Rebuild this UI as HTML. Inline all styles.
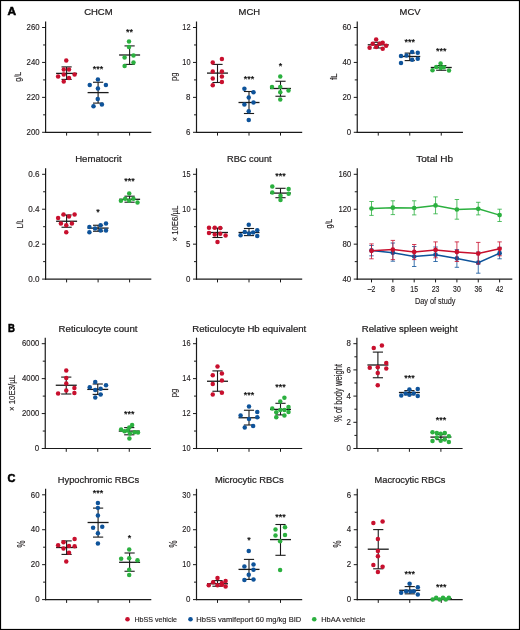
<!DOCTYPE html><html><head><meta charset="utf-8"><style>html,body{margin:0;padding:0;background:#fff}svg{display:block;will-change:transform}</style></head><body>
<svg width="520" height="630" viewBox="0 0 520 630" font-family='"Liberation Sans", sans-serif'>
<rect x="0" y="0" width="520" height="630" fill="#fff"/>
<rect x="0.5" y="0.5" width="519" height="629" fill="none" stroke="#000" stroke-width="1.2"/>
<text x="7.4" y="15.2" font-size="11.5" text-anchor="start" font-weight="bold" fill="#000" textLength="8.6" lengthAdjust="spacingAndGlyphs" stroke="#000" stroke-width="0.55">A</text>
<text x="7.9" y="331.6" font-size="11.5" text-anchor="start" font-weight="bold" fill="#000" textLength="6.9" lengthAdjust="spacingAndGlyphs" stroke="#000" stroke-width="0.55">B</text>
<text x="7.5" y="482.0" font-size="11.5" text-anchor="start" font-weight="bold" fill="#000" textLength="7.9" lengthAdjust="spacingAndGlyphs" stroke="#000" stroke-width="0.55">C</text>
<line x1="45.6" y1="21.500000000000014" x2="45.6" y2="132.9" stroke="#1a1a1a" stroke-width="1.2"/>
<line x1="45.0" y1="132.3" x2="151.3" y2="132.3" stroke="#1a1a1a" stroke-width="1.2"/>
<line x1="42.1" y1="132.3" x2="45.6" y2="132.3" stroke="#1a1a1a" stroke-width="1.0"/>
<line x1="43.1" y1="114.83333333333334" x2="45.6" y2="114.83333333333334" stroke="#1a1a1a" stroke-width="1.0"/>
<line x1="42.1" y1="97.36666666666667" x2="45.6" y2="97.36666666666667" stroke="#1a1a1a" stroke-width="1.0"/>
<line x1="43.1" y1="79.9" x2="45.6" y2="79.9" stroke="#1a1a1a" stroke-width="1.0"/>
<line x1="42.1" y1="62.43333333333335" x2="45.6" y2="62.43333333333335" stroke="#1a1a1a" stroke-width="1.0"/>
<line x1="43.1" y1="44.96666666666668" x2="45.6" y2="44.96666666666668" stroke="#1a1a1a" stroke-width="1.0"/>
<line x1="42.1" y1="27.500000000000014" x2="45.6" y2="27.500000000000014" stroke="#1a1a1a" stroke-width="1.0"/>
<line x1="66.6" y1="132.3" x2="66.6" y2="135.60000000000002" stroke="#1a1a1a" stroke-width="1.0"/>
<line x1="98.1" y1="132.3" x2="98.1" y2="135.60000000000002" stroke="#1a1a1a" stroke-width="1.0"/>
<line x1="129.6" y1="132.3" x2="129.6" y2="135.60000000000002" stroke="#1a1a1a" stroke-width="1.0"/>
<text x="39.6" y="135.05" font-size="8.6" text-anchor="end" font-weight="normal" fill="#231f20" textLength="13" lengthAdjust="spacingAndGlyphs" stroke="#231f20" stroke-width="0.15">200</text>
<text x="39.6" y="100.11666666666667" font-size="8.6" text-anchor="end" font-weight="normal" fill="#231f20" textLength="13" lengthAdjust="spacingAndGlyphs" stroke="#231f20" stroke-width="0.15">220</text>
<text x="39.6" y="65.18333333333335" font-size="8.6" text-anchor="end" font-weight="normal" fill="#231f20" textLength="13" lengthAdjust="spacingAndGlyphs" stroke="#231f20" stroke-width="0.15">240</text>
<text x="39.6" y="30.250000000000014" font-size="8.6" text-anchor="end" font-weight="normal" fill="#231f20" textLength="13" lengthAdjust="spacingAndGlyphs" stroke="#231f20" stroke-width="0.15">260</text>
<line x1="66.6" y1="66.9" x2="66.6" y2="79.4" stroke="#1a1a1a" stroke-width="1.1"/>
<line x1="61.49999999999999" y1="66.9" x2="71.69999999999999" y2="66.9" stroke="#1a1a1a" stroke-width="1.1"/>
<line x1="61.49999999999999" y1="79.4" x2="71.69999999999999" y2="79.4" stroke="#1a1a1a" stroke-width="1.1"/>
<line x1="56.099999999999994" y1="73.4" x2="77.1" y2="73.4" stroke="#1a1a1a" stroke-width="1.3"/>
<circle cx="66.25" cy="60.6" r="2.25" fill="#c8102e"/>
<circle cx="63.75" cy="69.4" r="2.25" fill="#c8102e"/>
<circle cx="69" cy="69.6" r="2.25" fill="#c8102e"/>
<circle cx="58.1" cy="76.5" r="2.25" fill="#c8102e"/>
<circle cx="63.75" cy="74.6" r="2.25" fill="#c8102e"/>
<circle cx="74.6" cy="74.6" r="2.25" fill="#c8102e"/>
<circle cx="69" cy="78.1" r="2.25" fill="#c8102e"/>
<circle cx="63.75" cy="81.5" r="2.25" fill="#c8102e"/>
<line x1="98.1" y1="82.25" x2="98.1" y2="103.1" stroke="#1a1a1a" stroke-width="1.1"/>
<line x1="93.0" y1="82.25" x2="103.19999999999999" y2="82.25" stroke="#1a1a1a" stroke-width="1.1"/>
<line x1="93.0" y1="103.1" x2="103.19999999999999" y2="103.1" stroke="#1a1a1a" stroke-width="1.1"/>
<line x1="87.6" y1="92.6" x2="108.6" y2="92.6" stroke="#1a1a1a" stroke-width="1.3"/>
<circle cx="97.9" cy="79.6" r="2.25" fill="#0e539a"/>
<circle cx="89.75" cy="85" r="2.25" fill="#0e539a"/>
<circle cx="105.9" cy="85" r="2.25" fill="#0e539a"/>
<circle cx="97.9" cy="88.6" r="2.25" fill="#0e539a"/>
<circle cx="97.75" cy="99" r="2.25" fill="#0e539a"/>
<circle cx="101.9" cy="104.4" r="2.25" fill="#0e539a"/>
<circle cx="93.5" cy="106.25" r="2.25" fill="#0e539a"/>
<line x1="129.6" y1="45.9" x2="129.6" y2="64.4" stroke="#1a1a1a" stroke-width="1.1"/>
<line x1="124.5" y1="45.9" x2="134.7" y2="45.9" stroke="#1a1a1a" stroke-width="1.1"/>
<line x1="124.5" y1="64.4" x2="134.7" y2="64.4" stroke="#1a1a1a" stroke-width="1.1"/>
<line x1="119.1" y1="55" x2="140.1" y2="55" stroke="#1a1a1a" stroke-width="1.3"/>
<circle cx="129" cy="41.5" r="2.25" fill="#2bb03f"/>
<circle cx="129" cy="46.9" r="2.25" fill="#2bb03f"/>
<circle cx="133.5" cy="55.6" r="2.25" fill="#2bb03f"/>
<circle cx="124.6" cy="57.5" r="2.25" fill="#2bb03f"/>
<circle cx="133.5" cy="62.5" r="2.25" fill="#2bb03f"/>
<circle cx="124.6" cy="66" r="2.25" fill="#2bb03f"/>
<text x="98.1" y="72.3" font-size="9" text-anchor="middle" fill="#000" stroke="#000" stroke-width="0.2">***</text>
<text x="129.6" y="34.800000000000004" font-size="9" text-anchor="middle" fill="#000" stroke="#000" stroke-width="0.2">**</text>
<text x="98.4" y="14.7" font-size="9.6" text-anchor="middle" font-weight="normal" fill="#231f20" textLength="28.5" lengthAdjust="spacingAndGlyphs" stroke="#1a1a1a" stroke-width="0.22">CHCM</text>
<text x="0" y="0" transform="translate(20.9,76.80000000000001) rotate(-90)" font-size="9.8" text-anchor="middle" font-weight="normal" fill="#231f20" textLength="10.0" lengthAdjust="spacingAndGlyphs" stroke="#231f20" stroke-width="0.15">g/L</text>
<line x1="196.5" y1="21.500000000000014" x2="196.5" y2="132.9" stroke="#1a1a1a" stroke-width="1.2"/>
<line x1="195.9" y1="132.3" x2="302.2" y2="132.3" stroke="#1a1a1a" stroke-width="1.2"/>
<line x1="193.0" y1="132.3" x2="196.5" y2="132.3" stroke="#1a1a1a" stroke-width="1.0"/>
<line x1="194.0" y1="114.83333333333334" x2="196.5" y2="114.83333333333334" stroke="#1a1a1a" stroke-width="1.0"/>
<line x1="193.0" y1="97.36666666666667" x2="196.5" y2="97.36666666666667" stroke="#1a1a1a" stroke-width="1.0"/>
<line x1="194.0" y1="79.9" x2="196.5" y2="79.9" stroke="#1a1a1a" stroke-width="1.0"/>
<line x1="193.0" y1="62.43333333333335" x2="196.5" y2="62.43333333333335" stroke="#1a1a1a" stroke-width="1.0"/>
<line x1="194.0" y1="44.96666666666668" x2="196.5" y2="44.96666666666668" stroke="#1a1a1a" stroke-width="1.0"/>
<line x1="193.0" y1="27.500000000000014" x2="196.5" y2="27.500000000000014" stroke="#1a1a1a" stroke-width="1.0"/>
<line x1="217.5" y1="132.3" x2="217.5" y2="135.60000000000002" stroke="#1a1a1a" stroke-width="1.0"/>
<line x1="249.0" y1="132.3" x2="249.0" y2="135.60000000000002" stroke="#1a1a1a" stroke-width="1.0"/>
<line x1="280.5" y1="132.3" x2="280.5" y2="135.60000000000002" stroke="#1a1a1a" stroke-width="1.0"/>
<text x="190.5" y="135.05" font-size="8.6" text-anchor="end" font-weight="normal" fill="#231f20" textLength="4.4" lengthAdjust="spacingAndGlyphs" stroke="#231f20" stroke-width="0.15">6</text>
<text x="190.5" y="100.11666666666667" font-size="8.6" text-anchor="end" font-weight="normal" fill="#231f20" textLength="4.4" lengthAdjust="spacingAndGlyphs" stroke="#231f20" stroke-width="0.15">8</text>
<text x="190.5" y="65.18333333333335" font-size="8.6" text-anchor="end" font-weight="normal" fill="#231f20" textLength="8.2" lengthAdjust="spacingAndGlyphs" stroke="#231f20" stroke-width="0.15">10</text>
<text x="190.5" y="30.250000000000014" font-size="8.6" text-anchor="end" font-weight="normal" fill="#231f20" textLength="8.2" lengthAdjust="spacingAndGlyphs" stroke="#231f20" stroke-width="0.15">12</text>
<line x1="217.5" y1="64.4" x2="217.5" y2="82.5" stroke="#1a1a1a" stroke-width="1.1"/>
<line x1="212.4" y1="64.4" x2="222.6" y2="64.4" stroke="#1a1a1a" stroke-width="1.1"/>
<line x1="212.4" y1="82.5" x2="222.6" y2="82.5" stroke="#1a1a1a" stroke-width="1.1"/>
<line x1="207.0" y1="73.1" x2="228.0" y2="73.1" stroke="#1a1a1a" stroke-width="1.3"/>
<circle cx="221.9" cy="59" r="2.25" fill="#c8102e"/>
<circle cx="212.75" cy="62.5" r="2.25" fill="#c8102e"/>
<circle cx="212.75" cy="71.5" r="2.25" fill="#c8102e"/>
<circle cx="221.9" cy="71.5" r="2.25" fill="#c8102e"/>
<circle cx="221.9" cy="76.5" r="2.25" fill="#c8102e"/>
<circle cx="212.75" cy="78.4" r="2.25" fill="#c8102e"/>
<circle cx="221.9" cy="81.9" r="2.25" fill="#c8102e"/>
<circle cx="212.75" cy="85.25" r="2.25" fill="#c8102e"/>
<line x1="249.0" y1="91.5" x2="249.0" y2="113.5" stroke="#1a1a1a" stroke-width="1.1"/>
<line x1="243.9" y1="91.5" x2="254.1" y2="91.5" stroke="#1a1a1a" stroke-width="1.1"/>
<line x1="243.9" y1="113.5" x2="254.1" y2="113.5" stroke="#1a1a1a" stroke-width="1.1"/>
<line x1="238.5" y1="102.5" x2="259.5" y2="102.5" stroke="#1a1a1a" stroke-width="1.3"/>
<circle cx="244.4" cy="88.75" r="2.25" fill="#0e539a"/>
<circle cx="253.5" cy="92.25" r="2.25" fill="#0e539a"/>
<circle cx="248.75" cy="97.5" r="2.25" fill="#0e539a"/>
<circle cx="253.5" cy="102.5" r="2.25" fill="#0e539a"/>
<circle cx="244.4" cy="104.4" r="2.25" fill="#0e539a"/>
<circle cx="248.75" cy="111.25" r="2.25" fill="#0e539a"/>
<circle cx="248.75" cy="120" r="2.25" fill="#0e539a"/>
<line x1="280.5" y1="81.25" x2="280.5" y2="96.25" stroke="#1a1a1a" stroke-width="1.1"/>
<line x1="275.4" y1="81.25" x2="285.6" y2="81.25" stroke="#1a1a1a" stroke-width="1.1"/>
<line x1="275.4" y1="96.25" x2="285.6" y2="96.25" stroke="#1a1a1a" stroke-width="1.1"/>
<line x1="270.0" y1="88.5" x2="291.0" y2="88.5" stroke="#1a1a1a" stroke-width="1.3"/>
<circle cx="280.25" cy="76.5" r="2.25" fill="#2bb03f"/>
<circle cx="272" cy="87.1" r="2.25" fill="#2bb03f"/>
<circle cx="280.25" cy="86.9" r="2.25" fill="#2bb03f"/>
<circle cx="288.5" cy="90.4" r="2.25" fill="#2bb03f"/>
<circle cx="280.25" cy="92.2" r="2.25" fill="#2bb03f"/>
<circle cx="280.25" cy="99.4" r="2.25" fill="#2bb03f"/>
<text x="249.0" y="82.3" font-size="9" text-anchor="middle" fill="#000" stroke="#000" stroke-width="0.2">***</text>
<text x="280.5" y="68.60000000000001" font-size="9" text-anchor="middle" fill="#000" stroke="#000" stroke-width="0.2">*</text>
<text x="249.3" y="14.7" font-size="9.6" text-anchor="middle" font-weight="normal" fill="#231f20" textLength="21.5" lengthAdjust="spacingAndGlyphs" stroke="#1a1a1a" stroke-width="0.22">MCH</text>
<text x="0" y="0" transform="translate(176.6,76.80000000000001) rotate(-90)" font-size="9.8" text-anchor="middle" font-weight="normal" fill="#231f20" textLength="8.6" lengthAdjust="spacingAndGlyphs" stroke="#231f20" stroke-width="0.15">pg</text>
<line x1="357.25" y1="21.500000000000014" x2="357.25" y2="132.9" stroke="#1a1a1a" stroke-width="1.2"/>
<line x1="356.65" y1="132.3" x2="462.95" y2="132.3" stroke="#1a1a1a" stroke-width="1.2"/>
<line x1="353.75" y1="132.3" x2="357.25" y2="132.3" stroke="#1a1a1a" stroke-width="1.0"/>
<line x1="354.75" y1="114.83333333333334" x2="357.25" y2="114.83333333333334" stroke="#1a1a1a" stroke-width="1.0"/>
<line x1="353.75" y1="97.36666666666667" x2="357.25" y2="97.36666666666667" stroke="#1a1a1a" stroke-width="1.0"/>
<line x1="354.75" y1="79.9" x2="357.25" y2="79.9" stroke="#1a1a1a" stroke-width="1.0"/>
<line x1="353.75" y1="62.43333333333335" x2="357.25" y2="62.43333333333335" stroke="#1a1a1a" stroke-width="1.0"/>
<line x1="354.75" y1="44.96666666666668" x2="357.25" y2="44.96666666666668" stroke="#1a1a1a" stroke-width="1.0"/>
<line x1="353.75" y1="27.500000000000014" x2="357.25" y2="27.500000000000014" stroke="#1a1a1a" stroke-width="1.0"/>
<line x1="378.25" y1="132.3" x2="378.25" y2="135.60000000000002" stroke="#1a1a1a" stroke-width="1.0"/>
<line x1="409.75" y1="132.3" x2="409.75" y2="135.60000000000002" stroke="#1a1a1a" stroke-width="1.0"/>
<line x1="441.25" y1="132.3" x2="441.25" y2="135.60000000000002" stroke="#1a1a1a" stroke-width="1.0"/>
<text x="351.25" y="135.05" font-size="8.6" text-anchor="end" font-weight="normal" fill="#231f20" textLength="4.4" lengthAdjust="spacingAndGlyphs" stroke="#231f20" stroke-width="0.15">0</text>
<text x="351.25" y="100.11666666666667" font-size="8.6" text-anchor="end" font-weight="normal" fill="#231f20" textLength="8.8" lengthAdjust="spacingAndGlyphs" stroke="#231f20" stroke-width="0.15">20</text>
<text x="351.25" y="65.18333333333335" font-size="8.6" text-anchor="end" font-weight="normal" fill="#231f20" textLength="8.8" lengthAdjust="spacingAndGlyphs" stroke="#231f20" stroke-width="0.15">40</text>
<text x="351.25" y="30.250000000000014" font-size="8.6" text-anchor="end" font-weight="normal" fill="#231f20" textLength="8.8" lengthAdjust="spacingAndGlyphs" stroke="#231f20" stroke-width="0.15">60</text>
<line x1="378.25" y1="42.3" x2="378.25" y2="48" stroke="#1a1a1a" stroke-width="1.1"/>
<line x1="373.15" y1="42.3" x2="383.35" y2="42.3" stroke="#1a1a1a" stroke-width="1.1"/>
<line x1="373.15" y1="48" x2="383.35" y2="48" stroke="#1a1a1a" stroke-width="1.1"/>
<line x1="367.75" y1="44.8" x2="388.75" y2="44.8" stroke="#1a1a1a" stroke-width="1.3"/>
<circle cx="376.15" cy="39.6" r="2.25" fill="#c8102e"/>
<circle cx="372.7" cy="43.8" r="2.25" fill="#c8102e"/>
<circle cx="379.6" cy="43.8" r="2.25" fill="#c8102e"/>
<circle cx="382.7" cy="42.7" r="2.25" fill="#c8102e"/>
<circle cx="386.15" cy="45.8" r="2.25" fill="#c8102e"/>
<circle cx="369.6" cy="47.7" r="2.25" fill="#c8102e"/>
<circle cx="376.15" cy="46.9" r="2.25" fill="#c8102e"/>
<circle cx="382.7" cy="48.8" r="2.25" fill="#c8102e"/>
<line x1="409.75" y1="53.1" x2="409.75" y2="60.6" stroke="#1a1a1a" stroke-width="1.1"/>
<line x1="404.65" y1="53.1" x2="414.85" y2="53.1" stroke="#1a1a1a" stroke-width="1.1"/>
<line x1="404.65" y1="60.6" x2="414.85" y2="60.6" stroke="#1a1a1a" stroke-width="1.1"/>
<line x1="399.25" y1="56.5" x2="420.25" y2="56.5" stroke="#1a1a1a" stroke-width="1.3"/>
<circle cx="401" cy="56" r="2.25" fill="#0e539a"/>
<circle cx="406.5" cy="55.6" r="2.25" fill="#0e539a"/>
<circle cx="412.1" cy="52.1" r="2.25" fill="#0e539a"/>
<circle cx="417.75" cy="52.75" r="2.25" fill="#0e539a"/>
<circle cx="412.1" cy="59.75" r="2.25" fill="#0e539a"/>
<circle cx="417.75" cy="58.75" r="2.25" fill="#0e539a"/>
<circle cx="401" cy="63.1" r="2.25" fill="#0e539a"/>
<line x1="441.25" y1="65.6" x2="441.25" y2="70.25" stroke="#1a1a1a" stroke-width="1.1"/>
<line x1="436.15" y1="65.6" x2="446.35" y2="65.6" stroke="#1a1a1a" stroke-width="1.1"/>
<line x1="436.15" y1="70.25" x2="446.35" y2="70.25" stroke="#1a1a1a" stroke-width="1.1"/>
<line x1="430.75" y1="67.5" x2="451.75" y2="67.5" stroke="#1a1a1a" stroke-width="1.3"/>
<circle cx="440.6" cy="63.5" r="2.25" fill="#2bb03f"/>
<circle cx="436.25" cy="66.9" r="2.25" fill="#2bb03f"/>
<circle cx="443.75" cy="67.25" r="2.25" fill="#2bb03f"/>
<circle cx="432.5" cy="70.25" r="2.25" fill="#2bb03f"/>
<circle cx="449" cy="70.6" r="2.25" fill="#2bb03f"/>
<circle cx="440.6" cy="68.1" r="2.25" fill="#2bb03f"/>
<text x="409.75" y="44.800000000000004" font-size="9" text-anchor="middle" fill="#000" stroke="#000" stroke-width="0.2">***</text>
<text x="441.25" y="54.2" font-size="9" text-anchor="middle" fill="#000" stroke="#000" stroke-width="0.2">***</text>
<text x="410.05" y="14.7" font-size="9.6" text-anchor="middle" font-weight="normal" fill="#231f20" textLength="20.9" lengthAdjust="spacingAndGlyphs" stroke="#1a1a1a" stroke-width="0.22">MCV</text>
<text x="0" y="0" transform="translate(337.0,76.80000000000001) rotate(-90)" font-size="9.8" text-anchor="middle" font-weight="normal" fill="#231f20" textLength="6.6" lengthAdjust="spacingAndGlyphs" stroke="#231f20" stroke-width="0.15">fL</text>
<line x1="45.6" y1="168.3" x2="45.6" y2="279.70000000000005" stroke="#1a1a1a" stroke-width="1.2"/>
<line x1="45.0" y1="279.1" x2="151.3" y2="279.1" stroke="#1a1a1a" stroke-width="1.2"/>
<line x1="42.1" y1="279.1" x2="45.6" y2="279.1" stroke="#1a1a1a" stroke-width="1.0"/>
<line x1="43.1" y1="261.6333333333334" x2="45.6" y2="261.6333333333334" stroke="#1a1a1a" stroke-width="1.0"/>
<line x1="42.1" y1="244.16666666666669" x2="45.6" y2="244.16666666666669" stroke="#1a1a1a" stroke-width="1.0"/>
<line x1="43.1" y1="226.70000000000002" x2="45.6" y2="226.70000000000002" stroke="#1a1a1a" stroke-width="1.0"/>
<line x1="42.1" y1="209.23333333333335" x2="45.6" y2="209.23333333333335" stroke="#1a1a1a" stroke-width="1.0"/>
<line x1="43.1" y1="191.7666666666667" x2="45.6" y2="191.7666666666667" stroke="#1a1a1a" stroke-width="1.0"/>
<line x1="42.1" y1="174.3" x2="45.6" y2="174.3" stroke="#1a1a1a" stroke-width="1.0"/>
<line x1="66.6" y1="279.1" x2="66.6" y2="282.40000000000003" stroke="#1a1a1a" stroke-width="1.0"/>
<line x1="98.1" y1="279.1" x2="98.1" y2="282.40000000000003" stroke="#1a1a1a" stroke-width="1.0"/>
<line x1="129.6" y1="279.1" x2="129.6" y2="282.40000000000003" stroke="#1a1a1a" stroke-width="1.0"/>
<text x="39.6" y="281.85" font-size="8.6" text-anchor="end" font-weight="normal" fill="#231f20" textLength="11.3" lengthAdjust="spacingAndGlyphs" stroke="#231f20" stroke-width="0.15">0.0</text>
<text x="39.6" y="246.91666666666669" font-size="8.6" text-anchor="end" font-weight="normal" fill="#231f20" textLength="11.3" lengthAdjust="spacingAndGlyphs" stroke="#231f20" stroke-width="0.15">0.2</text>
<text x="39.6" y="211.98333333333335" font-size="8.6" text-anchor="end" font-weight="normal" fill="#231f20" textLength="11.3" lengthAdjust="spacingAndGlyphs" stroke="#231f20" stroke-width="0.15">0.4</text>
<text x="39.6" y="177.05" font-size="8.6" text-anchor="end" font-weight="normal" fill="#231f20" textLength="11.3" lengthAdjust="spacingAndGlyphs" stroke="#231f20" stroke-width="0.15">0.6</text>
<line x1="66.6" y1="215" x2="66.6" y2="227.25" stroke="#1a1a1a" stroke-width="1.1"/>
<line x1="61.49999999999999" y1="215" x2="71.69999999999999" y2="215" stroke="#1a1a1a" stroke-width="1.1"/>
<line x1="61.49999999999999" y1="227.25" x2="71.69999999999999" y2="227.25" stroke="#1a1a1a" stroke-width="1.1"/>
<line x1="56.099999999999994" y1="221.25" x2="77.1" y2="221.25" stroke="#1a1a1a" stroke-width="1.3"/>
<circle cx="63.5" cy="214.6" r="2.25" fill="#c8102e"/>
<circle cx="69" cy="216.5" r="2.25" fill="#c8102e"/>
<circle cx="74.6" cy="214.6" r="2.25" fill="#c8102e"/>
<circle cx="58.1" cy="218.1" r="2.25" fill="#c8102e"/>
<circle cx="60.9" cy="223.5" r="2.25" fill="#c8102e"/>
<circle cx="66.25" cy="225.25" r="2.25" fill="#c8102e"/>
<circle cx="71.9" cy="223.5" r="2.25" fill="#c8102e"/>
<circle cx="66.25" cy="232.25" r="2.25" fill="#c8102e"/>
<line x1="98.1" y1="225.25" x2="98.1" y2="231.25" stroke="#1a1a1a" stroke-width="1.1"/>
<line x1="93.0" y1="225.25" x2="103.19999999999999" y2="225.25" stroke="#1a1a1a" stroke-width="1.1"/>
<line x1="93.0" y1="231.25" x2="103.19999999999999" y2="231.25" stroke="#1a1a1a" stroke-width="1.1"/>
<line x1="87.6" y1="228.1" x2="108.6" y2="228.1" stroke="#1a1a1a" stroke-width="1.3"/>
<circle cx="89.4" cy="226.9" r="2.25" fill="#0e539a"/>
<circle cx="95" cy="228.5" r="2.25" fill="#0e539a"/>
<circle cx="100.6" cy="225.25" r="2.25" fill="#0e539a"/>
<circle cx="106" cy="223.5" r="2.25" fill="#0e539a"/>
<circle cx="89.4" cy="232.25" r="2.25" fill="#0e539a"/>
<circle cx="100.6" cy="230.6" r="2.25" fill="#0e539a"/>
<circle cx="106" cy="230.6" r="2.25" fill="#0e539a"/>
<line x1="129.6" y1="196.2" x2="129.6" y2="202.2" stroke="#1a1a1a" stroke-width="1.1"/>
<line x1="124.5" y1="196.2" x2="134.7" y2="196.2" stroke="#1a1a1a" stroke-width="1.1"/>
<line x1="124.5" y1="202.2" x2="134.7" y2="202.2" stroke="#1a1a1a" stroke-width="1.1"/>
<line x1="119.1" y1="199.3" x2="140.1" y2="199.3" stroke="#1a1a1a" stroke-width="1.3"/>
<circle cx="129.2" cy="193.6" r="2.25" fill="#2bb03f"/>
<circle cx="125.2" cy="198.8" r="2.25" fill="#2bb03f"/>
<circle cx="133.4" cy="198.8" r="2.25" fill="#2bb03f"/>
<circle cx="120.9" cy="200.8" r="2.25" fill="#2bb03f"/>
<circle cx="129.2" cy="200.8" r="2.25" fill="#2bb03f"/>
<circle cx="137.5" cy="202.5" r="2.25" fill="#2bb03f"/>
<text x="98.1" y="214.79999999999998" font-size="9" text-anchor="middle" fill="#000" stroke="#000" stroke-width="0.2">*</text>
<text x="129.6" y="183.79999999999998" font-size="9" text-anchor="middle" fill="#000" stroke="#000" stroke-width="0.2">***</text>
<text x="98.4" y="162.3" font-size="9.6" text-anchor="middle" font-weight="normal" fill="#231f20" textLength="46.5" lengthAdjust="spacingAndGlyphs" stroke="#1a1a1a" stroke-width="0.22">Hematocrit</text>
<text x="0" y="0" transform="translate(22.9,223.60000000000002) rotate(-90)" font-size="9.8" text-anchor="middle" font-weight="normal" fill="#231f20" textLength="9.2" lengthAdjust="spacingAndGlyphs" stroke="#231f20" stroke-width="0.15">L/L</text>
<line x1="196.5" y1="168.3" x2="196.5" y2="279.70000000000005" stroke="#1a1a1a" stroke-width="1.2"/>
<line x1="195.9" y1="279.1" x2="302.2" y2="279.1" stroke="#1a1a1a" stroke-width="1.2"/>
<line x1="193.0" y1="279.1" x2="196.5" y2="279.1" stroke="#1a1a1a" stroke-width="1.0"/>
<line x1="194.0" y1="261.6333333333334" x2="196.5" y2="261.6333333333334" stroke="#1a1a1a" stroke-width="1.0"/>
<line x1="193.0" y1="244.16666666666669" x2="196.5" y2="244.16666666666669" stroke="#1a1a1a" stroke-width="1.0"/>
<line x1="194.0" y1="226.70000000000002" x2="196.5" y2="226.70000000000002" stroke="#1a1a1a" stroke-width="1.0"/>
<line x1="193.0" y1="209.23333333333335" x2="196.5" y2="209.23333333333335" stroke="#1a1a1a" stroke-width="1.0"/>
<line x1="194.0" y1="191.7666666666667" x2="196.5" y2="191.7666666666667" stroke="#1a1a1a" stroke-width="1.0"/>
<line x1="193.0" y1="174.3" x2="196.5" y2="174.3" stroke="#1a1a1a" stroke-width="1.0"/>
<line x1="217.5" y1="279.1" x2="217.5" y2="282.40000000000003" stroke="#1a1a1a" stroke-width="1.0"/>
<line x1="249.0" y1="279.1" x2="249.0" y2="282.40000000000003" stroke="#1a1a1a" stroke-width="1.0"/>
<line x1="280.5" y1="279.1" x2="280.5" y2="282.40000000000003" stroke="#1a1a1a" stroke-width="1.0"/>
<text x="190.5" y="281.85" font-size="8.6" text-anchor="end" font-weight="normal" fill="#231f20" textLength="4.4" lengthAdjust="spacingAndGlyphs" stroke="#231f20" stroke-width="0.15">0</text>
<text x="190.5" y="246.91666666666669" font-size="8.6" text-anchor="end" font-weight="normal" fill="#231f20" textLength="4.4" lengthAdjust="spacingAndGlyphs" stroke="#231f20" stroke-width="0.15">5</text>
<text x="190.5" y="211.98333333333335" font-size="8.6" text-anchor="end" font-weight="normal" fill="#231f20" textLength="8.2" lengthAdjust="spacingAndGlyphs" stroke="#231f20" stroke-width="0.15">10</text>
<text x="190.5" y="177.05" font-size="8.6" text-anchor="end" font-weight="normal" fill="#231f20" textLength="8.2" lengthAdjust="spacingAndGlyphs" stroke="#231f20" stroke-width="0.15">15</text>
<line x1="217.5" y1="228.1" x2="217.5" y2="237.5" stroke="#1a1a1a" stroke-width="1.1"/>
<line x1="212.4" y1="228.1" x2="222.6" y2="228.1" stroke="#1a1a1a" stroke-width="1.1"/>
<line x1="212.4" y1="237.5" x2="222.6" y2="237.5" stroke="#1a1a1a" stroke-width="1.1"/>
<line x1="207.0" y1="232.5" x2="228.0" y2="232.5" stroke="#1a1a1a" stroke-width="1.3"/>
<circle cx="209" cy="227.75" r="2.25" fill="#c8102e"/>
<circle cx="214.75" cy="227.75" r="2.25" fill="#c8102e"/>
<circle cx="220.25" cy="228.1" r="2.25" fill="#c8102e"/>
<circle cx="209" cy="233.1" r="2.25" fill="#c8102e"/>
<circle cx="214.75" cy="234.4" r="2.25" fill="#c8102e"/>
<circle cx="220.25" cy="233.75" r="2.25" fill="#c8102e"/>
<circle cx="225.6" cy="235.6" r="2.25" fill="#c8102e"/>
<circle cx="217.5" cy="241.9" r="2.25" fill="#c8102e"/>
<line x1="249.0" y1="228.5" x2="249.0" y2="235.6" stroke="#1a1a1a" stroke-width="1.1"/>
<line x1="243.9" y1="228.5" x2="254.1" y2="228.5" stroke="#1a1a1a" stroke-width="1.1"/>
<line x1="243.9" y1="235.6" x2="254.1" y2="235.6" stroke="#1a1a1a" stroke-width="1.1"/>
<line x1="238.5" y1="232.5" x2="259.5" y2="232.5" stroke="#1a1a1a" stroke-width="1.3"/>
<circle cx="248.75" cy="224.75" r="2.25" fill="#0e539a"/>
<circle cx="244.75" cy="231.9" r="2.25" fill="#0e539a"/>
<circle cx="249" cy="233.5" r="2.25" fill="#0e539a"/>
<circle cx="253.1" cy="232.5" r="2.25" fill="#0e539a"/>
<circle cx="257.25" cy="230.25" r="2.25" fill="#0e539a"/>
<circle cx="240.6" cy="235.25" r="2.25" fill="#0e539a"/>
<circle cx="257.25" cy="236" r="2.25" fill="#0e539a"/>
<line x1="280.5" y1="188.3" x2="280.5" y2="197.7" stroke="#1a1a1a" stroke-width="1.1"/>
<line x1="275.4" y1="188.3" x2="285.6" y2="188.3" stroke="#1a1a1a" stroke-width="1.1"/>
<line x1="275.4" y1="197.7" x2="285.6" y2="197.7" stroke="#1a1a1a" stroke-width="1.1"/>
<line x1="270.0" y1="193.1" x2="291.0" y2="193.1" stroke="#1a1a1a" stroke-width="1.3"/>
<circle cx="272.3" cy="186.6" r="2.25" fill="#2bb03f"/>
<circle cx="288.65" cy="189" r="2.25" fill="#2bb03f"/>
<circle cx="272.3" cy="192.4" r="2.25" fill="#2bb03f"/>
<circle cx="288.65" cy="193.85" r="2.25" fill="#2bb03f"/>
<circle cx="280.5" cy="195.8" r="2.25" fill="#2bb03f"/>
<circle cx="280.5" cy="200.1" r="2.25" fill="#2bb03f"/>
<text x="280.5" y="178.79999999999998" font-size="9" text-anchor="middle" fill="#000" stroke="#000" stroke-width="0.2">***</text>
<text x="249.3" y="162.3" font-size="9.6" text-anchor="middle" font-weight="normal" fill="#231f20" textLength="44.6" lengthAdjust="spacingAndGlyphs" stroke="#1a1a1a" stroke-width="0.22">RBC count</text>
<text x="0" y="0" transform="translate(177.6,223.60000000000002) rotate(-90)" font-size="9.8" text-anchor="middle" font-weight="normal" fill="#231f20" textLength="36.0" lengthAdjust="spacingAndGlyphs" stroke="#231f20" stroke-width="0.15">× 10E6/µL</text>
<line x1="357.25" y1="168.3" x2="357.25" y2="279.70000000000005" stroke="#1a1a1a" stroke-width="1.2"/>
<line x1="356.65" y1="279.1" x2="512.3" y2="279.1" stroke="#1a1a1a" stroke-width="1.2"/>
<line x1="353.75" y1="279.1" x2="357.25" y2="279.1" stroke="#1a1a1a" stroke-width="1.0"/>
<line x1="354.75" y1="261.6333333333334" x2="357.25" y2="261.6333333333334" stroke="#1a1a1a" stroke-width="1.0"/>
<line x1="353.75" y1="244.16666666666669" x2="357.25" y2="244.16666666666669" stroke="#1a1a1a" stroke-width="1.0"/>
<line x1="354.75" y1="226.70000000000002" x2="357.25" y2="226.70000000000002" stroke="#1a1a1a" stroke-width="1.0"/>
<line x1="353.75" y1="209.23333333333335" x2="357.25" y2="209.23333333333335" stroke="#1a1a1a" stroke-width="1.0"/>
<line x1="354.75" y1="191.7666666666667" x2="357.25" y2="191.7666666666667" stroke="#1a1a1a" stroke-width="1.0"/>
<line x1="353.75" y1="174.3" x2="357.25" y2="174.3" stroke="#1a1a1a" stroke-width="1.0"/>
<text x="351.25" y="281.85" font-size="8.6" text-anchor="end" font-weight="normal" fill="#231f20" textLength="8.8" lengthAdjust="spacingAndGlyphs" stroke="#231f20" stroke-width="0.15">40</text>
<text x="351.25" y="246.91666666666669" font-size="8.6" text-anchor="end" font-weight="normal" fill="#231f20" textLength="8.8" lengthAdjust="spacingAndGlyphs" stroke="#231f20" stroke-width="0.15">80</text>
<text x="351.25" y="211.98333333333335" font-size="8.6" text-anchor="end" font-weight="normal" fill="#231f20" textLength="12.8" lengthAdjust="spacingAndGlyphs" stroke="#231f20" stroke-width="0.15">120</text>
<text x="351.25" y="177.05" font-size="8.6" text-anchor="end" font-weight="normal" fill="#231f20" textLength="12.8" lengthAdjust="spacingAndGlyphs" stroke="#231f20" stroke-width="0.15">160</text>
<line x1="371.5" y1="279.1" x2="371.5" y2="282.40000000000003" stroke="#1a1a1a" stroke-width="1.0"/>
<line x1="392.85" y1="279.1" x2="392.85" y2="282.40000000000003" stroke="#1a1a1a" stroke-width="1.0"/>
<line x1="414.2" y1="279.1" x2="414.2" y2="282.40000000000003" stroke="#1a1a1a" stroke-width="1.0"/>
<line x1="435.55" y1="279.1" x2="435.55" y2="282.40000000000003" stroke="#1a1a1a" stroke-width="1.0"/>
<line x1="456.9" y1="279.1" x2="456.9" y2="282.40000000000003" stroke="#1a1a1a" stroke-width="1.0"/>
<line x1="478.25" y1="279.1" x2="478.25" y2="282.40000000000003" stroke="#1a1a1a" stroke-width="1.0"/>
<line x1="499.6" y1="279.1" x2="499.6" y2="282.40000000000003" stroke="#1a1a1a" stroke-width="1.0"/>
<text x="371.5" y="291.6" font-size="8.6" text-anchor="middle" font-weight="normal" fill="#231f20" textLength="7.7" lengthAdjust="spacingAndGlyphs" stroke="#231f20" stroke-width="0.15">–2</text>
<text x="392.85" y="291.6" font-size="8.6" text-anchor="middle" font-weight="normal" fill="#231f20" textLength="3.9" lengthAdjust="spacingAndGlyphs" stroke="#231f20" stroke-width="0.15">8</text>
<text x="414.2" y="291.6" font-size="8.6" text-anchor="middle" font-weight="normal" fill="#231f20" textLength="7.7" lengthAdjust="spacingAndGlyphs" stroke="#231f20" stroke-width="0.15">15</text>
<text x="435.55" y="291.6" font-size="8.6" text-anchor="middle" font-weight="normal" fill="#231f20" textLength="7.7" lengthAdjust="spacingAndGlyphs" stroke="#231f20" stroke-width="0.15">23</text>
<text x="456.9" y="291.6" font-size="8.6" text-anchor="middle" font-weight="normal" fill="#231f20" textLength="7.7" lengthAdjust="spacingAndGlyphs" stroke="#231f20" stroke-width="0.15">30</text>
<text x="478.25" y="291.6" font-size="8.6" text-anchor="middle" font-weight="normal" fill="#231f20" textLength="7.7" lengthAdjust="spacingAndGlyphs" stroke="#231f20" stroke-width="0.15">36</text>
<text x="499.6" y="291.6" font-size="8.6" text-anchor="middle" font-weight="normal" fill="#231f20" textLength="7.7" lengthAdjust="spacingAndGlyphs" stroke="#231f20" stroke-width="0.15">42</text>
<text x="435.2" y="303.8" font-size="9.6" text-anchor="middle" font-weight="normal" fill="#231f20" textLength="40.5" lengthAdjust="spacingAndGlyphs" stroke="#231f20" stroke-width="0.15">Day of study</text>
<text x="434.7" y="162.3" font-size="9.6" text-anchor="middle" font-weight="normal" fill="#231f20" textLength="36.9" lengthAdjust="spacingAndGlyphs" stroke="#1a1a1a" stroke-width="0.22">Total Hb</text>
<text x="0" y="0" transform="translate(332.4,223.7) rotate(-90)" font-size="9.8" text-anchor="middle" font-weight="normal" fill="#231f20" textLength="9.8" lengthAdjust="spacingAndGlyphs" stroke="#231f20" stroke-width="0.15">g/L</text>
<line x1="371.5" y1="201.5" x2="371.5" y2="215.4" stroke="#2bb03f" stroke-width="1.0" stroke-opacity="0.8"/>
<line x1="369.3" y1="201.5" x2="373.7" y2="201.5" stroke="#2bb03f" stroke-width="1.0" stroke-opacity="0.8"/>
<line x1="369.3" y1="215.4" x2="373.7" y2="215.4" stroke="#2bb03f" stroke-width="1.0" stroke-opacity="0.8"/>
<line x1="392.85" y1="200.8" x2="392.85" y2="214.6" stroke="#2bb03f" stroke-width="1.0" stroke-opacity="0.8"/>
<line x1="390.65000000000003" y1="200.8" x2="395.05" y2="200.8" stroke="#2bb03f" stroke-width="1.0" stroke-opacity="0.8"/>
<line x1="390.65000000000003" y1="214.6" x2="395.05" y2="214.6" stroke="#2bb03f" stroke-width="1.0" stroke-opacity="0.8"/>
<line x1="414.2" y1="200.8" x2="414.2" y2="214.9" stroke="#2bb03f" stroke-width="1.0" stroke-opacity="0.8"/>
<line x1="412.0" y1="200.8" x2="416.4" y2="200.8" stroke="#2bb03f" stroke-width="1.0" stroke-opacity="0.8"/>
<line x1="412.0" y1="214.9" x2="416.4" y2="214.9" stroke="#2bb03f" stroke-width="1.0" stroke-opacity="0.8"/>
<line x1="435.55" y1="196.9" x2="435.55" y2="213.8" stroke="#2bb03f" stroke-width="1.0" stroke-opacity="0.8"/>
<line x1="433.35" y1="196.9" x2="437.75" y2="196.9" stroke="#2bb03f" stroke-width="1.0" stroke-opacity="0.8"/>
<line x1="433.35" y1="213.8" x2="437.75" y2="213.8" stroke="#2bb03f" stroke-width="1.0" stroke-opacity="0.8"/>
<line x1="456.9" y1="199.5" x2="456.9" y2="219.2" stroke="#2bb03f" stroke-width="1.0" stroke-opacity="0.8"/>
<line x1="454.7" y1="199.5" x2="459.09999999999997" y2="199.5" stroke="#2bb03f" stroke-width="1.0" stroke-opacity="0.8"/>
<line x1="454.7" y1="219.2" x2="459.09999999999997" y2="219.2" stroke="#2bb03f" stroke-width="1.0" stroke-opacity="0.8"/>
<line x1="478.25" y1="202.3" x2="478.25" y2="214.9" stroke="#2bb03f" stroke-width="1.0" stroke-opacity="0.8"/>
<line x1="476.05" y1="202.3" x2="480.45" y2="202.3" stroke="#2bb03f" stroke-width="1.0" stroke-opacity="0.8"/>
<line x1="476.05" y1="214.9" x2="480.45" y2="214.9" stroke="#2bb03f" stroke-width="1.0" stroke-opacity="0.8"/>
<line x1="499.6" y1="209.2" x2="499.6" y2="221.5" stroke="#2bb03f" stroke-width="1.0" stroke-opacity="0.8"/>
<line x1="497.40000000000003" y1="209.2" x2="501.8" y2="209.2" stroke="#2bb03f" stroke-width="1.0" stroke-opacity="0.8"/>
<line x1="497.40000000000003" y1="221.5" x2="501.8" y2="221.5" stroke="#2bb03f" stroke-width="1.0" stroke-opacity="0.8"/>
<polyline points="371.5,208.5 392.85,207.7 414.2,208 435.55,205.4 456.9,209.5 478.25,208.8 499.6,215.1" fill="none" stroke="#2bb03f" stroke-width="1.5"/>
<circle cx="371.5" cy="208.5" r="2.35" fill="#2bb03f"/>
<circle cx="392.85" cy="207.7" r="2.35" fill="#2bb03f"/>
<circle cx="414.2" cy="208" r="2.35" fill="#2bb03f"/>
<circle cx="435.55" cy="205.4" r="2.35" fill="#2bb03f"/>
<circle cx="456.9" cy="209.5" r="2.35" fill="#2bb03f"/>
<circle cx="478.25" cy="208.8" r="2.35" fill="#2bb03f"/>
<circle cx="499.6" cy="215.1" r="2.35" fill="#2bb03f"/>
<line x1="371.5" y1="245.5" x2="371.5" y2="255.8" stroke="#0e539a" stroke-width="1.0" stroke-opacity="0.8"/>
<line x1="369.3" y1="245.5" x2="373.7" y2="245.5" stroke="#0e539a" stroke-width="1.0" stroke-opacity="0.8"/>
<line x1="369.3" y1="255.8" x2="373.7" y2="255.8" stroke="#0e539a" stroke-width="1.0" stroke-opacity="0.8"/>
<line x1="392.85" y1="243" x2="392.85" y2="261.2" stroke="#0e539a" stroke-width="1.0" stroke-opacity="0.8"/>
<line x1="390.65000000000003" y1="243" x2="395.05" y2="243" stroke="#0e539a" stroke-width="1.0" stroke-opacity="0.8"/>
<line x1="390.65000000000003" y1="261.2" x2="395.05" y2="261.2" stroke="#0e539a" stroke-width="1.0" stroke-opacity="0.8"/>
<line x1="414.2" y1="246.5" x2="414.2" y2="266.5" stroke="#0e539a" stroke-width="1.0" stroke-opacity="0.8"/>
<line x1="412.0" y1="246.5" x2="416.4" y2="246.5" stroke="#0e539a" stroke-width="1.0" stroke-opacity="0.8"/>
<line x1="412.0" y1="266.5" x2="416.4" y2="266.5" stroke="#0e539a" stroke-width="1.0" stroke-opacity="0.8"/>
<line x1="435.55" y1="247" x2="435.55" y2="261.5" stroke="#0e539a" stroke-width="1.0" stroke-opacity="0.8"/>
<line x1="433.35" y1="247" x2="437.75" y2="247" stroke="#0e539a" stroke-width="1.0" stroke-opacity="0.8"/>
<line x1="433.35" y1="261.5" x2="437.75" y2="261.5" stroke="#0e539a" stroke-width="1.0" stroke-opacity="0.8"/>
<line x1="456.9" y1="249.6" x2="456.9" y2="267.3" stroke="#0e539a" stroke-width="1.0" stroke-opacity="0.8"/>
<line x1="454.7" y1="249.6" x2="459.09999999999997" y2="249.6" stroke="#0e539a" stroke-width="1.0" stroke-opacity="0.8"/>
<line x1="454.7" y1="267.3" x2="459.09999999999997" y2="267.3" stroke="#0e539a" stroke-width="1.0" stroke-opacity="0.8"/>
<line x1="478.25" y1="252" x2="478.25" y2="273.2" stroke="#0e539a" stroke-width="1.0" stroke-opacity="0.8"/>
<line x1="476.05" y1="252" x2="480.45" y2="252" stroke="#0e539a" stroke-width="1.0" stroke-opacity="0.8"/>
<line x1="476.05" y1="273.2" x2="480.45" y2="273.2" stroke="#0e539a" stroke-width="1.0" stroke-opacity="0.8"/>
<line x1="499.6" y1="247.3" x2="499.6" y2="258.8" stroke="#0e539a" stroke-width="1.0" stroke-opacity="0.8"/>
<line x1="497.40000000000003" y1="247.3" x2="501.8" y2="247.3" stroke="#0e539a" stroke-width="1.0" stroke-opacity="0.8"/>
<line x1="497.40000000000003" y1="258.8" x2="501.8" y2="258.8" stroke="#0e539a" stroke-width="1.0" stroke-opacity="0.8"/>
<polyline points="371.5,250.4 392.85,252.7 414.2,256.5 435.55,254.7 456.9,258.4 478.25,262.7 499.6,253.2" fill="none" stroke="#0e539a" stroke-width="1.5"/>
<circle cx="371.5" cy="250.4" r="2.35" fill="#0e539a"/>
<circle cx="392.85" cy="252.7" r="2.35" fill="#0e539a"/>
<circle cx="414.2" cy="256.5" r="2.35" fill="#0e539a"/>
<circle cx="435.55" cy="254.7" r="2.35" fill="#0e539a"/>
<circle cx="456.9" cy="258.4" r="2.35" fill="#0e539a"/>
<circle cx="478.25" cy="262.7" r="2.35" fill="#0e539a"/>
<circle cx="499.6" cy="253.2" r="2.35" fill="#0e539a"/>
<line x1="371.5" y1="243.9" x2="371.5" y2="258.8" stroke="#c8102e" stroke-width="1.0" stroke-opacity="0.8"/>
<line x1="369.3" y1="243.9" x2="373.7" y2="243.9" stroke="#c8102e" stroke-width="1.0" stroke-opacity="0.8"/>
<line x1="369.3" y1="258.8" x2="373.7" y2="258.8" stroke="#c8102e" stroke-width="1.0" stroke-opacity="0.8"/>
<line x1="392.85" y1="240.4" x2="392.85" y2="259.6" stroke="#c8102e" stroke-width="1.0" stroke-opacity="0.8"/>
<line x1="390.65000000000003" y1="240.4" x2="395.05" y2="240.4" stroke="#c8102e" stroke-width="1.0" stroke-opacity="0.8"/>
<line x1="390.65000000000003" y1="259.6" x2="395.05" y2="259.6" stroke="#c8102e" stroke-width="1.0" stroke-opacity="0.8"/>
<line x1="414.2" y1="244.5" x2="414.2" y2="259.6" stroke="#c8102e" stroke-width="1.0" stroke-opacity="0.8"/>
<line x1="412.0" y1="244.5" x2="416.4" y2="244.5" stroke="#c8102e" stroke-width="1.0" stroke-opacity="0.8"/>
<line x1="412.0" y1="259.6" x2="416.4" y2="259.6" stroke="#c8102e" stroke-width="1.0" stroke-opacity="0.8"/>
<line x1="435.55" y1="241.9" x2="435.55" y2="257.8" stroke="#c8102e" stroke-width="1.0" stroke-opacity="0.8"/>
<line x1="433.35" y1="241.9" x2="437.75" y2="241.9" stroke="#c8102e" stroke-width="1.0" stroke-opacity="0.8"/>
<line x1="433.35" y1="257.8" x2="437.75" y2="257.8" stroke="#c8102e" stroke-width="1.0" stroke-opacity="0.8"/>
<line x1="456.9" y1="241.9" x2="456.9" y2="261.5" stroke="#c8102e" stroke-width="1.0" stroke-opacity="0.8"/>
<line x1="454.7" y1="241.9" x2="459.09999999999997" y2="241.9" stroke="#c8102e" stroke-width="1.0" stroke-opacity="0.8"/>
<line x1="454.7" y1="261.5" x2="459.09999999999997" y2="261.5" stroke="#c8102e" stroke-width="1.0" stroke-opacity="0.8"/>
<line x1="478.25" y1="242.4" x2="478.25" y2="264" stroke="#c8102e" stroke-width="1.0" stroke-opacity="0.8"/>
<line x1="476.05" y1="242.4" x2="480.45" y2="242.4" stroke="#c8102e" stroke-width="1.0" stroke-opacity="0.8"/>
<line x1="476.05" y1="264" x2="480.45" y2="264" stroke="#c8102e" stroke-width="1.0" stroke-opacity="0.8"/>
<line x1="499.6" y1="241.9" x2="499.6" y2="255.8" stroke="#c8102e" stroke-width="1.0" stroke-opacity="0.8"/>
<line x1="497.40000000000003" y1="241.9" x2="501.8" y2="241.9" stroke="#c8102e" stroke-width="1.0" stroke-opacity="0.8"/>
<line x1="497.40000000000003" y1="255.8" x2="501.8" y2="255.8" stroke="#c8102e" stroke-width="1.0" stroke-opacity="0.8"/>
<polyline points="371.5,250.8 392.85,249.6 414.2,251.9 435.55,249.9 456.9,251.9 478.25,253.5 499.6,248.8" fill="none" stroke="#c8102e" stroke-width="1.5"/>
<circle cx="371.5" cy="250.8" r="2.35" fill="#c8102e"/>
<circle cx="392.85" cy="249.6" r="2.35" fill="#c8102e"/>
<circle cx="414.2" cy="251.9" r="2.35" fill="#c8102e"/>
<circle cx="435.55" cy="249.9" r="2.35" fill="#c8102e"/>
<circle cx="456.9" cy="251.9" r="2.35" fill="#c8102e"/>
<circle cx="478.25" cy="253.5" r="2.35" fill="#c8102e"/>
<circle cx="499.6" cy="248.8" r="2.35" fill="#c8102e"/>
<line x1="45.25" y1="337.7" x2="45.25" y2="449.1" stroke="#1a1a1a" stroke-width="1.2"/>
<line x1="44.65" y1="448.5" x2="150.95" y2="448.5" stroke="#1a1a1a" stroke-width="1.2"/>
<line x1="41.75" y1="448.5" x2="45.25" y2="448.5" stroke="#1a1a1a" stroke-width="1.0"/>
<line x1="42.75" y1="431.03333333333336" x2="45.25" y2="431.03333333333336" stroke="#1a1a1a" stroke-width="1.0"/>
<line x1="41.75" y1="413.56666666666666" x2="45.25" y2="413.56666666666666" stroke="#1a1a1a" stroke-width="1.0"/>
<line x1="42.75" y1="396.1" x2="45.25" y2="396.1" stroke="#1a1a1a" stroke-width="1.0"/>
<line x1="41.75" y1="378.6333333333333" x2="45.25" y2="378.6333333333333" stroke="#1a1a1a" stroke-width="1.0"/>
<line x1="42.75" y1="361.1666666666667" x2="45.25" y2="361.1666666666667" stroke="#1a1a1a" stroke-width="1.0"/>
<line x1="41.75" y1="343.7" x2="45.25" y2="343.7" stroke="#1a1a1a" stroke-width="1.0"/>
<line x1="66.25" y1="448.5" x2="66.25" y2="451.8" stroke="#1a1a1a" stroke-width="1.0"/>
<line x1="97.75" y1="448.5" x2="97.75" y2="451.8" stroke="#1a1a1a" stroke-width="1.0"/>
<line x1="129.25" y1="448.5" x2="129.25" y2="451.8" stroke="#1a1a1a" stroke-width="1.0"/>
<text x="39.25" y="451.25" font-size="8.6" text-anchor="end" font-weight="normal" fill="#231f20" textLength="4.4" lengthAdjust="spacingAndGlyphs" stroke="#231f20" stroke-width="0.15">0</text>
<text x="39.25" y="416.31666666666666" font-size="8.6" text-anchor="end" font-weight="normal" fill="#231f20" textLength="17.2" lengthAdjust="spacingAndGlyphs" stroke="#231f20" stroke-width="0.15">2000</text>
<text x="39.25" y="381.3833333333333" font-size="8.6" text-anchor="end" font-weight="normal" fill="#231f20" textLength="17.2" lengthAdjust="spacingAndGlyphs" stroke="#231f20" stroke-width="0.15">4000</text>
<text x="39.25" y="346.45" font-size="8.6" text-anchor="end" font-weight="normal" fill="#231f20" textLength="17.2" lengthAdjust="spacingAndGlyphs" stroke="#231f20" stroke-width="0.15">6000</text>
<line x1="66.25" y1="377.1" x2="66.25" y2="394" stroke="#1a1a1a" stroke-width="1.1"/>
<line x1="61.15" y1="377.1" x2="71.35" y2="377.1" stroke="#1a1a1a" stroke-width="1.1"/>
<line x1="61.15" y1="394" x2="71.35" y2="394" stroke="#1a1a1a" stroke-width="1.1"/>
<line x1="55.75" y1="385.25" x2="76.75" y2="385.25" stroke="#1a1a1a" stroke-width="1.3"/>
<circle cx="66.25" cy="370.6" r="2.25" fill="#c8102e"/>
<circle cx="66.25" cy="378.1" r="2.25" fill="#c8102e"/>
<circle cx="66.25" cy="383.5" r="2.25" fill="#c8102e"/>
<circle cx="74.4" cy="388.1" r="2.25" fill="#c8102e"/>
<circle cx="66.25" cy="390.6" r="2.25" fill="#c8102e"/>
<circle cx="58.1" cy="393.5" r="2.25" fill="#c8102e"/>
<circle cx="74.4" cy="393.1" r="2.25" fill="#c8102e"/>
<line x1="97.75" y1="384" x2="97.75" y2="394.4" stroke="#1a1a1a" stroke-width="1.1"/>
<line x1="92.65" y1="384" x2="102.85" y2="384" stroke="#1a1a1a" stroke-width="1.1"/>
<line x1="92.65" y1="394.4" x2="102.85" y2="394.4" stroke="#1a1a1a" stroke-width="1.1"/>
<line x1="87.25" y1="389.4" x2="108.25" y2="389.4" stroke="#1a1a1a" stroke-width="1.3"/>
<circle cx="95.25" cy="381.9" r="2.25" fill="#0e539a"/>
<circle cx="89.75" cy="387.25" r="2.25" fill="#0e539a"/>
<circle cx="106" cy="385.25" r="2.25" fill="#0e539a"/>
<circle cx="95.25" cy="390" r="2.25" fill="#0e539a"/>
<circle cx="100.6" cy="388.75" r="2.25" fill="#0e539a"/>
<circle cx="100.6" cy="394.4" r="2.25" fill="#0e539a"/>
<circle cx="95.25" cy="397.5" r="2.25" fill="#0e539a"/>
<line x1="129.25" y1="427.6" x2="129.25" y2="434.8" stroke="#1a1a1a" stroke-width="1.1"/>
<line x1="124.15" y1="427.6" x2="134.35" y2="427.6" stroke="#1a1a1a" stroke-width="1.1"/>
<line x1="124.15" y1="434.8" x2="134.35" y2="434.8" stroke="#1a1a1a" stroke-width="1.1"/>
<line x1="118.75" y1="431.1" x2="139.75" y2="431.1" stroke="#1a1a1a" stroke-width="1.3"/>
<circle cx="132.15" cy="425.1" r="2.25" fill="#2bb03f"/>
<circle cx="129.3" cy="427.5" r="2.25" fill="#2bb03f"/>
<circle cx="121.1" cy="429.5" r="2.25" fill="#2bb03f"/>
<circle cx="124.5" cy="431.2" r="2.25" fill="#2bb03f"/>
<circle cx="127.5" cy="430.5" r="2.25" fill="#2bb03f"/>
<circle cx="134.5" cy="432.3" r="2.25" fill="#2bb03f"/>
<circle cx="138" cy="432.4" r="2.25" fill="#2bb03f"/>
<circle cx="130" cy="433.6" r="2.25" fill="#2bb03f"/>
<circle cx="129.4" cy="438.6" r="2.25" fill="#2bb03f"/>
<text x="129.25" y="416.5" font-size="9" text-anchor="middle" fill="#000" stroke="#000" stroke-width="0.2">***</text>
<text x="98.05" y="331.7" font-size="9.6" text-anchor="middle" font-weight="normal" fill="#231f20" textLength="78.9" lengthAdjust="spacingAndGlyphs" stroke="#1a1a1a" stroke-width="0.22">Reticulocyte count</text>
<text x="0" y="0" transform="translate(15.4,393.0) rotate(-90)" font-size="9.8" text-anchor="middle" font-weight="normal" fill="#231f20" textLength="36.0" lengthAdjust="spacingAndGlyphs" stroke="#231f20" stroke-width="0.15">× 10E3/µL</text>
<line x1="196.5" y1="337.7" x2="196.5" y2="449.1" stroke="#1a1a1a" stroke-width="1.2"/>
<line x1="195.9" y1="448.5" x2="302.2" y2="448.5" stroke="#1a1a1a" stroke-width="1.2"/>
<line x1="193.0" y1="448.5" x2="196.5" y2="448.5" stroke="#1a1a1a" stroke-width="1.0"/>
<line x1="194.0" y1="431.03333333333336" x2="196.5" y2="431.03333333333336" stroke="#1a1a1a" stroke-width="1.0"/>
<line x1="193.0" y1="413.56666666666666" x2="196.5" y2="413.56666666666666" stroke="#1a1a1a" stroke-width="1.0"/>
<line x1="194.0" y1="396.1" x2="196.5" y2="396.1" stroke="#1a1a1a" stroke-width="1.0"/>
<line x1="193.0" y1="378.6333333333333" x2="196.5" y2="378.6333333333333" stroke="#1a1a1a" stroke-width="1.0"/>
<line x1="194.0" y1="361.1666666666667" x2="196.5" y2="361.1666666666667" stroke="#1a1a1a" stroke-width="1.0"/>
<line x1="193.0" y1="343.7" x2="196.5" y2="343.7" stroke="#1a1a1a" stroke-width="1.0"/>
<line x1="217.5" y1="448.5" x2="217.5" y2="451.8" stroke="#1a1a1a" stroke-width="1.0"/>
<line x1="249.0" y1="448.5" x2="249.0" y2="451.8" stroke="#1a1a1a" stroke-width="1.0"/>
<line x1="280.5" y1="448.5" x2="280.5" y2="451.8" stroke="#1a1a1a" stroke-width="1.0"/>
<text x="190.5" y="451.25" font-size="8.6" text-anchor="end" font-weight="normal" fill="#231f20" textLength="8.2" lengthAdjust="spacingAndGlyphs" stroke="#231f20" stroke-width="0.15">10</text>
<text x="190.5" y="416.31666666666666" font-size="8.6" text-anchor="end" font-weight="normal" fill="#231f20" textLength="8.2" lengthAdjust="spacingAndGlyphs" stroke="#231f20" stroke-width="0.15">12</text>
<text x="190.5" y="381.3833333333333" font-size="8.6" text-anchor="end" font-weight="normal" fill="#231f20" textLength="8.2" lengthAdjust="spacingAndGlyphs" stroke="#231f20" stroke-width="0.15">14</text>
<text x="190.5" y="346.45" font-size="8.6" text-anchor="end" font-weight="normal" fill="#231f20" textLength="8.2" lengthAdjust="spacingAndGlyphs" stroke="#231f20" stroke-width="0.15">16</text>
<line x1="217.5" y1="370.9" x2="217.5" y2="391.25" stroke="#1a1a1a" stroke-width="1.1"/>
<line x1="212.4" y1="370.9" x2="222.6" y2="370.9" stroke="#1a1a1a" stroke-width="1.1"/>
<line x1="212.4" y1="391.25" x2="222.6" y2="391.25" stroke="#1a1a1a" stroke-width="1.1"/>
<line x1="207.0" y1="381.25" x2="228.0" y2="381.25" stroke="#1a1a1a" stroke-width="1.3"/>
<circle cx="217.5" cy="366.5" r="2.25" fill="#c8102e"/>
<circle cx="221.9" cy="373.5" r="2.25" fill="#c8102e"/>
<circle cx="212.75" cy="375.25" r="2.25" fill="#c8102e"/>
<circle cx="221.9" cy="380.4" r="2.25" fill="#c8102e"/>
<circle cx="212.75" cy="384" r="2.25" fill="#c8102e"/>
<circle cx="221.9" cy="392.75" r="2.25" fill="#c8102e"/>
<circle cx="212.75" cy="394.6" r="2.25" fill="#c8102e"/>
<line x1="249.0" y1="410.25" x2="249.0" y2="425" stroke="#1a1a1a" stroke-width="1.1"/>
<line x1="243.9" y1="410.25" x2="254.1" y2="410.25" stroke="#1a1a1a" stroke-width="1.1"/>
<line x1="243.9" y1="425" x2="254.1" y2="425" stroke="#1a1a1a" stroke-width="1.1"/>
<line x1="238.5" y1="417.75" x2="259.5" y2="417.75" stroke="#1a1a1a" stroke-width="1.3"/>
<circle cx="249" cy="406.5" r="2.25" fill="#0e539a"/>
<circle cx="257.25" cy="411.9" r="2.25" fill="#0e539a"/>
<circle cx="240.6" cy="415.6" r="2.25" fill="#0e539a"/>
<circle cx="257.25" cy="417.25" r="2.25" fill="#0e539a"/>
<circle cx="249" cy="419" r="2.25" fill="#0e539a"/>
<circle cx="253.1" cy="425.9" r="2.25" fill="#0e539a"/>
<circle cx="244.75" cy="427.5" r="2.25" fill="#0e539a"/>
<line x1="280.5" y1="403.3" x2="280.5" y2="414.9" stroke="#1a1a1a" stroke-width="1.1"/>
<line x1="275.4" y1="403.3" x2="285.6" y2="403.3" stroke="#1a1a1a" stroke-width="1.1"/>
<line x1="275.4" y1="414.9" x2="285.6" y2="414.9" stroke="#1a1a1a" stroke-width="1.1"/>
<line x1="270.0" y1="409.4" x2="291.0" y2="409.4" stroke="#1a1a1a" stroke-width="1.3"/>
<circle cx="284.4" cy="397.75" r="2.25" fill="#2bb03f"/>
<circle cx="280.25" cy="401.5" r="2.25" fill="#2bb03f"/>
<circle cx="272.25" cy="408.5" r="2.25" fill="#2bb03f"/>
<circle cx="288.5" cy="406.9" r="2.25" fill="#2bb03f"/>
<circle cx="280.25" cy="410" r="2.25" fill="#2bb03f"/>
<circle cx="284.4" cy="410" r="2.25" fill="#2bb03f"/>
<circle cx="276.25" cy="412.25" r="2.25" fill="#2bb03f"/>
<circle cx="288.5" cy="411.9" r="2.25" fill="#2bb03f"/>
<circle cx="276.25" cy="417.25" r="2.25" fill="#2bb03f"/>
<circle cx="284.4" cy="415.6" r="2.25" fill="#2bb03f"/>
<text x="249.0" y="398.2" font-size="9" text-anchor="middle" fill="#000" stroke="#000" stroke-width="0.2">***</text>
<text x="280.5" y="389.8" font-size="9" text-anchor="middle" fill="#000" stroke="#000" stroke-width="0.2">***</text>
<text x="249.3" y="331.7" font-size="9.6" text-anchor="middle" font-weight="normal" fill="#231f20" textLength="114" lengthAdjust="spacingAndGlyphs" stroke="#1a1a1a" stroke-width="0.22">Reticulocyte Hb equivalent</text>
<text x="0" y="0" transform="translate(177.0,393.0) rotate(-90)" font-size="9.8" text-anchor="middle" font-weight="normal" fill="#231f20" textLength="8.6" lengthAdjust="spacingAndGlyphs" stroke="#231f20" stroke-width="0.15">pg</text>
<line x1="356.9" y1="337.7" x2="356.9" y2="449.1" stroke="#1a1a1a" stroke-width="1.2"/>
<line x1="356.29999999999995" y1="448.5" x2="462.59999999999997" y2="448.5" stroke="#1a1a1a" stroke-width="1.2"/>
<line x1="353.4" y1="448.5" x2="356.9" y2="448.5" stroke="#1a1a1a" stroke-width="1.0"/>
<line x1="354.4" y1="435.4" x2="356.9" y2="435.4" stroke="#1a1a1a" stroke-width="1.0"/>
<line x1="353.4" y1="422.3" x2="356.9" y2="422.3" stroke="#1a1a1a" stroke-width="1.0"/>
<line x1="354.4" y1="409.2" x2="356.9" y2="409.2" stroke="#1a1a1a" stroke-width="1.0"/>
<line x1="353.4" y1="396.1" x2="356.9" y2="396.1" stroke="#1a1a1a" stroke-width="1.0"/>
<line x1="354.4" y1="383.0" x2="356.9" y2="383.0" stroke="#1a1a1a" stroke-width="1.0"/>
<line x1="353.4" y1="369.9" x2="356.9" y2="369.9" stroke="#1a1a1a" stroke-width="1.0"/>
<line x1="354.4" y1="356.8" x2="356.9" y2="356.8" stroke="#1a1a1a" stroke-width="1.0"/>
<line x1="353.4" y1="343.7" x2="356.9" y2="343.7" stroke="#1a1a1a" stroke-width="1.0"/>
<line x1="377.9" y1="448.5" x2="377.9" y2="451.8" stroke="#1a1a1a" stroke-width="1.0"/>
<line x1="409.4" y1="448.5" x2="409.4" y2="451.8" stroke="#1a1a1a" stroke-width="1.0"/>
<line x1="440.9" y1="448.5" x2="440.9" y2="451.8" stroke="#1a1a1a" stroke-width="1.0"/>
<text x="350.9" y="451.25" font-size="8.6" text-anchor="end" font-weight="normal" fill="#231f20" textLength="4.4" lengthAdjust="spacingAndGlyphs" stroke="#231f20" stroke-width="0.15">0</text>
<text x="350.9" y="425.05" font-size="8.6" text-anchor="end" font-weight="normal" fill="#231f20" textLength="4.4" lengthAdjust="spacingAndGlyphs" stroke="#231f20" stroke-width="0.15">2</text>
<text x="350.9" y="398.85" font-size="8.6" text-anchor="end" font-weight="normal" fill="#231f20" textLength="4.4" lengthAdjust="spacingAndGlyphs" stroke="#231f20" stroke-width="0.15">4</text>
<text x="350.9" y="372.65" font-size="8.6" text-anchor="end" font-weight="normal" fill="#231f20" textLength="4.4" lengthAdjust="spacingAndGlyphs" stroke="#231f20" stroke-width="0.15">6</text>
<text x="350.9" y="346.45" font-size="8.6" text-anchor="end" font-weight="normal" fill="#231f20" textLength="4.4" lengthAdjust="spacingAndGlyphs" stroke="#231f20" stroke-width="0.15">8</text>
<line x1="377.9" y1="352.1" x2="377.9" y2="377.75" stroke="#1a1a1a" stroke-width="1.1"/>
<line x1="372.79999999999995" y1="352.1" x2="383.0" y2="352.1" stroke="#1a1a1a" stroke-width="1.1"/>
<line x1="372.79999999999995" y1="377.75" x2="383.0" y2="377.75" stroke="#1a1a1a" stroke-width="1.1"/>
<line x1="367.4" y1="365" x2="388.4" y2="365" stroke="#1a1a1a" stroke-width="1.3"/>
<circle cx="373.75" cy="348.1" r="2.25" fill="#c8102e"/>
<circle cx="381.9" cy="345.6" r="2.25" fill="#c8102e"/>
<circle cx="386.25" cy="363.1" r="2.25" fill="#c8102e"/>
<circle cx="369.75" cy="367.75" r="2.25" fill="#c8102e"/>
<circle cx="377.75" cy="367.25" r="2.25" fill="#c8102e"/>
<circle cx="386.25" cy="368.5" r="2.25" fill="#c8102e"/>
<circle cx="377.75" cy="373.1" r="2.25" fill="#c8102e"/>
<circle cx="377.75" cy="385.25" r="2.25" fill="#c8102e"/>
<line x1="409.4" y1="390.6" x2="409.4" y2="394.75" stroke="#1a1a1a" stroke-width="1.1"/>
<line x1="404.29999999999995" y1="390.6" x2="414.5" y2="390.6" stroke="#1a1a1a" stroke-width="1.1"/>
<line x1="404.29999999999995" y1="394.75" x2="414.5" y2="394.75" stroke="#1a1a1a" stroke-width="1.1"/>
<line x1="398.9" y1="392.5" x2="419.9" y2="392.5" stroke="#1a1a1a" stroke-width="1.3"/>
<circle cx="409.4" cy="389.4" r="2.25" fill="#0e539a"/>
<circle cx="417.75" cy="389" r="2.25" fill="#0e539a"/>
<circle cx="401.25" cy="395.6" r="2.25" fill="#0e539a"/>
<circle cx="405.6" cy="393.5" r="2.25" fill="#0e539a"/>
<circle cx="409.4" cy="394.75" r="2.25" fill="#0e539a"/>
<circle cx="413.75" cy="393.5" r="2.25" fill="#0e539a"/>
<circle cx="417.75" cy="396" r="2.25" fill="#0e539a"/>
<line x1="440.9" y1="434.6" x2="440.9" y2="439.6" stroke="#1a1a1a" stroke-width="1.1"/>
<line x1="435.79999999999995" y1="434.6" x2="446.0" y2="434.6" stroke="#1a1a1a" stroke-width="1.1"/>
<line x1="435.79999999999995" y1="439.6" x2="446.0" y2="439.6" stroke="#1a1a1a" stroke-width="1.1"/>
<line x1="430.4" y1="437.1" x2="451.4" y2="437.1" stroke="#1a1a1a" stroke-width="1.3"/>
<circle cx="432.5" cy="432.3" r="2.25" fill="#2bb03f"/>
<circle cx="436.8" cy="432.9" r="2.25" fill="#2bb03f"/>
<circle cx="440.7" cy="433.8" r="2.25" fill="#2bb03f"/>
<circle cx="444.8" cy="432.9" r="2.25" fill="#2bb03f"/>
<circle cx="448.85" cy="436.15" r="2.25" fill="#2bb03f"/>
<circle cx="436.8" cy="437.4" r="2.25" fill="#2bb03f"/>
<circle cx="432.5" cy="441" r="2.25" fill="#2bb03f"/>
<circle cx="440.7" cy="440.8" r="2.25" fill="#2bb03f"/>
<circle cx="444.8" cy="439.6" r="2.25" fill="#2bb03f"/>
<circle cx="448.85" cy="441.9" r="2.25" fill="#2bb03f"/>
<text x="409.4" y="381.09999999999997" font-size="9" text-anchor="middle" fill="#000" stroke="#000" stroke-width="0.2">***</text>
<text x="440.9" y="423.3" font-size="9" text-anchor="middle" fill="#000" stroke="#000" stroke-width="0.2">***</text>
<text x="409.7" y="331.7" font-size="9.6" text-anchor="middle" font-weight="normal" fill="#231f20" textLength="95.8" lengthAdjust="spacingAndGlyphs" stroke="#1a1a1a" stroke-width="0.22">Relative spleen weight</text>
<text x="0" y="0" transform="translate(341.6,393.0) rotate(-90)" font-size="10.6" text-anchor="middle" font-weight="normal" fill="#231f20" textLength="58.0" lengthAdjust="spacingAndGlyphs" stroke="#231f20" stroke-width="0.15">% of body weight</text>
<line x1="45.6" y1="488.8" x2="45.6" y2="600.2" stroke="#1a1a1a" stroke-width="1.2"/>
<line x1="45.0" y1="599.6" x2="151.3" y2="599.6" stroke="#1a1a1a" stroke-width="1.2"/>
<line x1="42.1" y1="599.6" x2="45.6" y2="599.6" stroke="#1a1a1a" stroke-width="1.0"/>
<line x1="43.1" y1="582.1333333333333" x2="45.6" y2="582.1333333333333" stroke="#1a1a1a" stroke-width="1.0"/>
<line x1="42.1" y1="564.6666666666667" x2="45.6" y2="564.6666666666667" stroke="#1a1a1a" stroke-width="1.0"/>
<line x1="43.1" y1="547.2" x2="45.6" y2="547.2" stroke="#1a1a1a" stroke-width="1.0"/>
<line x1="42.1" y1="529.7333333333333" x2="45.6" y2="529.7333333333333" stroke="#1a1a1a" stroke-width="1.0"/>
<line x1="43.1" y1="512.2666666666667" x2="45.6" y2="512.2666666666667" stroke="#1a1a1a" stroke-width="1.0"/>
<line x1="42.1" y1="494.8" x2="45.6" y2="494.8" stroke="#1a1a1a" stroke-width="1.0"/>
<line x1="66.6" y1="599.6" x2="66.6" y2="602.9" stroke="#1a1a1a" stroke-width="1.0"/>
<line x1="98.1" y1="599.6" x2="98.1" y2="602.9" stroke="#1a1a1a" stroke-width="1.0"/>
<line x1="129.6" y1="599.6" x2="129.6" y2="602.9" stroke="#1a1a1a" stroke-width="1.0"/>
<text x="39.6" y="602.35" font-size="8.6" text-anchor="end" font-weight="normal" fill="#231f20" textLength="4.4" lengthAdjust="spacingAndGlyphs" stroke="#231f20" stroke-width="0.15">0</text>
<text x="39.6" y="567.4166666666667" font-size="8.6" text-anchor="end" font-weight="normal" fill="#231f20" textLength="8.8" lengthAdjust="spacingAndGlyphs" stroke="#231f20" stroke-width="0.15">20</text>
<text x="39.6" y="532.4833333333333" font-size="8.6" text-anchor="end" font-weight="normal" fill="#231f20" textLength="8.8" lengthAdjust="spacingAndGlyphs" stroke="#231f20" stroke-width="0.15">40</text>
<text x="39.6" y="497.55" font-size="8.6" text-anchor="end" font-weight="normal" fill="#231f20" textLength="8.8" lengthAdjust="spacingAndGlyphs" stroke="#231f20" stroke-width="0.15">60</text>
<line x1="66.6" y1="540.9" x2="66.6" y2="554.4" stroke="#1a1a1a" stroke-width="1.1"/>
<line x1="61.49999999999999" y1="540.9" x2="71.69999999999999" y2="540.9" stroke="#1a1a1a" stroke-width="1.1"/>
<line x1="61.49999999999999" y1="554.4" x2="71.69999999999999" y2="554.4" stroke="#1a1a1a" stroke-width="1.1"/>
<line x1="56.099999999999994" y1="547.5" x2="77.1" y2="547.5" stroke="#1a1a1a" stroke-width="1.3"/>
<circle cx="74.6" cy="539" r="2.25" fill="#c8102e"/>
<circle cx="63.5" cy="542.25" r="2.25" fill="#c8102e"/>
<circle cx="58.1" cy="545.25" r="2.25" fill="#c8102e"/>
<circle cx="69" cy="546" r="2.25" fill="#c8102e"/>
<circle cx="74.6" cy="546.25" r="2.25" fill="#c8102e"/>
<circle cx="63.5" cy="548.5" r="2.25" fill="#c8102e"/>
<circle cx="69" cy="552.75" r="2.25" fill="#c8102e"/>
<circle cx="66.25" cy="561.5" r="2.25" fill="#c8102e"/>
<line x1="98.1" y1="508.1" x2="98.1" y2="537.1" stroke="#1a1a1a" stroke-width="1.1"/>
<line x1="93.0" y1="508.1" x2="103.19999999999999" y2="508.1" stroke="#1a1a1a" stroke-width="1.1"/>
<line x1="93.0" y1="537.1" x2="103.19999999999999" y2="537.1" stroke="#1a1a1a" stroke-width="1.1"/>
<line x1="87.6" y1="522.5" x2="108.6" y2="522.5" stroke="#1a1a1a" stroke-width="1.3"/>
<circle cx="97.9" cy="503" r="2.25" fill="#0e539a"/>
<circle cx="97.9" cy="507.9" r="2.25" fill="#0e539a"/>
<circle cx="97.9" cy="515.5" r="2.25" fill="#0e539a"/>
<circle cx="93.1" cy="527.7" r="2.25" fill="#0e539a"/>
<circle cx="102.25" cy="526.85" r="2.25" fill="#0e539a"/>
<circle cx="97.9" cy="533.2" r="2.25" fill="#0e539a"/>
<circle cx="97.9" cy="543.4" r="2.25" fill="#0e539a"/>
<line x1="129.6" y1="553" x2="129.6" y2="571.25" stroke="#1a1a1a" stroke-width="1.1"/>
<line x1="124.5" y1="553" x2="134.7" y2="553" stroke="#1a1a1a" stroke-width="1.1"/>
<line x1="124.5" y1="571.25" x2="134.7" y2="571.25" stroke="#1a1a1a" stroke-width="1.1"/>
<line x1="119.1" y1="562.3" x2="140.1" y2="562.3" stroke="#1a1a1a" stroke-width="1.3"/>
<circle cx="129.2" cy="549.4" r="2.25" fill="#2bb03f"/>
<circle cx="121.15" cy="558.75" r="2.25" fill="#2bb03f"/>
<circle cx="129.2" cy="558.3" r="2.25" fill="#2bb03f"/>
<circle cx="137.5" cy="560.2" r="2.25" fill="#2bb03f"/>
<circle cx="129.2" cy="569.8" r="2.25" fill="#2bb03f"/>
<circle cx="129.2" cy="575.1" r="2.25" fill="#2bb03f"/>
<text x="98.1" y="495.7" font-size="9" text-anchor="middle" fill="#000" stroke="#000" stroke-width="0.2">***</text>
<text x="129.6" y="541.1" font-size="9" text-anchor="middle" fill="#000" stroke="#000" stroke-width="0.2">*</text>
<text x="98.4" y="482.8" font-size="9.6" text-anchor="middle" font-weight="normal" fill="#231f20" textLength="81.3" lengthAdjust="spacingAndGlyphs" stroke="#1a1a1a" stroke-width="0.22">Hypochromic RBCs</text>
<text x="0" y="0" transform="translate(24.9,544.1) rotate(-90)" font-size="10.0" text-anchor="middle" font-weight="normal" fill="#231f20" textLength="7.0" lengthAdjust="spacingAndGlyphs" stroke="#231f20" stroke-width="0.15">%</text>
<line x1="196.5" y1="488.8" x2="196.5" y2="600.2" stroke="#1a1a1a" stroke-width="1.2"/>
<line x1="195.9" y1="599.6" x2="302.2" y2="599.6" stroke="#1a1a1a" stroke-width="1.2"/>
<line x1="193.0" y1="599.6" x2="196.5" y2="599.6" stroke="#1a1a1a" stroke-width="1.0"/>
<line x1="194.0" y1="582.1333333333333" x2="196.5" y2="582.1333333333333" stroke="#1a1a1a" stroke-width="1.0"/>
<line x1="193.0" y1="564.6666666666667" x2="196.5" y2="564.6666666666667" stroke="#1a1a1a" stroke-width="1.0"/>
<line x1="194.0" y1="547.2" x2="196.5" y2="547.2" stroke="#1a1a1a" stroke-width="1.0"/>
<line x1="193.0" y1="529.7333333333333" x2="196.5" y2="529.7333333333333" stroke="#1a1a1a" stroke-width="1.0"/>
<line x1="194.0" y1="512.2666666666667" x2="196.5" y2="512.2666666666667" stroke="#1a1a1a" stroke-width="1.0"/>
<line x1="193.0" y1="494.8" x2="196.5" y2="494.8" stroke="#1a1a1a" stroke-width="1.0"/>
<line x1="217.5" y1="599.6" x2="217.5" y2="602.9" stroke="#1a1a1a" stroke-width="1.0"/>
<line x1="249.0" y1="599.6" x2="249.0" y2="602.9" stroke="#1a1a1a" stroke-width="1.0"/>
<line x1="280.5" y1="599.6" x2="280.5" y2="602.9" stroke="#1a1a1a" stroke-width="1.0"/>
<text x="190.5" y="602.35" font-size="8.6" text-anchor="end" font-weight="normal" fill="#231f20" textLength="4.4" lengthAdjust="spacingAndGlyphs" stroke="#231f20" stroke-width="0.15">0</text>
<text x="190.5" y="567.4166666666667" font-size="8.6" text-anchor="end" font-weight="normal" fill="#231f20" textLength="8.2" lengthAdjust="spacingAndGlyphs" stroke="#231f20" stroke-width="0.15">10</text>
<text x="190.5" y="532.4833333333333" font-size="8.6" text-anchor="end" font-weight="normal" fill="#231f20" textLength="8.2" lengthAdjust="spacingAndGlyphs" stroke="#231f20" stroke-width="0.15">20</text>
<text x="190.5" y="497.55" font-size="8.6" text-anchor="end" font-weight="normal" fill="#231f20" textLength="8.2" lengthAdjust="spacingAndGlyphs" stroke="#231f20" stroke-width="0.15">30</text>
<line x1="217.5" y1="580.6" x2="217.5" y2="586.25" stroke="#1a1a1a" stroke-width="1.1"/>
<line x1="212.4" y1="580.6" x2="222.6" y2="580.6" stroke="#1a1a1a" stroke-width="1.1"/>
<line x1="212.4" y1="586.25" x2="222.6" y2="586.25" stroke="#1a1a1a" stroke-width="1.1"/>
<line x1="207.0" y1="583.75" x2="228.0" y2="583.75" stroke="#1a1a1a" stroke-width="1.3"/>
<circle cx="217.5" cy="578.1" r="2.25" fill="#c8102e"/>
<circle cx="213.1" cy="582.25" r="2.25" fill="#c8102e"/>
<circle cx="221.9" cy="583.1" r="2.25" fill="#c8102e"/>
<circle cx="225.6" cy="581" r="2.25" fill="#c8102e"/>
<circle cx="208.75" cy="585.25" r="2.25" fill="#c8102e"/>
<circle cx="217.5" cy="585.25" r="2.25" fill="#c8102e"/>
<circle cx="225.6" cy="586.5" r="2.25" fill="#c8102e"/>
<circle cx="221.9" cy="584.75" r="2.25" fill="#c8102e"/>
<line x1="249.0" y1="559.4" x2="249.0" y2="579.4" stroke="#1a1a1a" stroke-width="1.1"/>
<line x1="243.9" y1="559.4" x2="254.1" y2="559.4" stroke="#1a1a1a" stroke-width="1.1"/>
<line x1="243.9" y1="579.4" x2="254.1" y2="579.4" stroke="#1a1a1a" stroke-width="1.1"/>
<line x1="238.5" y1="569.4" x2="259.5" y2="569.4" stroke="#1a1a1a" stroke-width="1.3"/>
<circle cx="248.75" cy="551" r="2.25" fill="#0e539a"/>
<circle cx="253.5" cy="564.4" r="2.25" fill="#0e539a"/>
<circle cx="244.4" cy="566.5" r="2.25" fill="#0e539a"/>
<circle cx="253.5" cy="569.75" r="2.25" fill="#0e539a"/>
<circle cx="248.75" cy="574.75" r="2.25" fill="#0e539a"/>
<circle cx="244.4" cy="580" r="2.25" fill="#0e539a"/>
<circle cx="253.5" cy="579.4" r="2.25" fill="#0e539a"/>
<line x1="280.5" y1="524.5" x2="280.5" y2="555.3" stroke="#1a1a1a" stroke-width="1.1"/>
<line x1="275.4" y1="524.5" x2="285.6" y2="524.5" stroke="#1a1a1a" stroke-width="1.1"/>
<line x1="275.4" y1="555.3" x2="285.6" y2="555.3" stroke="#1a1a1a" stroke-width="1.1"/>
<line x1="270.0" y1="539.6" x2="291.0" y2="539.6" stroke="#1a1a1a" stroke-width="1.3"/>
<circle cx="275.5" cy="529.6" r="2.25" fill="#2bb03f"/>
<circle cx="285" cy="527.3" r="2.25" fill="#2bb03f"/>
<circle cx="275.5" cy="535.5" r="2.25" fill="#2bb03f"/>
<circle cx="285" cy="535" r="2.25" fill="#2bb03f"/>
<circle cx="280.1" cy="541.2" r="2.25" fill="#2bb03f"/>
<circle cx="280.1" cy="569.9" r="2.25" fill="#2bb03f"/>
<text x="249.0" y="542.7" font-size="9" text-anchor="middle" fill="#000" stroke="#000" stroke-width="0.2">*</text>
<text x="280.5" y="519.7" font-size="9" text-anchor="middle" fill="#000" stroke="#000" stroke-width="0.2">***</text>
<text x="249.3" y="482.8" font-size="9.6" text-anchor="middle" font-weight="normal" fill="#231f20" textLength="68.8" lengthAdjust="spacingAndGlyphs" stroke="#1a1a1a" stroke-width="0.22">Microcytic RBCs</text>
<text x="0" y="0" transform="translate(177.0,544.1) rotate(-90)" font-size="10.0" text-anchor="middle" font-weight="normal" fill="#231f20" textLength="7.0" lengthAdjust="spacingAndGlyphs" stroke="#231f20" stroke-width="0.15">%</text>
<line x1="357.25" y1="488.8" x2="357.25" y2="600.2" stroke="#1a1a1a" stroke-width="1.2"/>
<line x1="356.65" y1="599.6" x2="462.7" y2="599.6" stroke="#1a1a1a" stroke-width="1.2"/>
<line x1="353.75" y1="599.6" x2="357.25" y2="599.6" stroke="#1a1a1a" stroke-width="1.0"/>
<line x1="354.75" y1="582.1333333333333" x2="357.25" y2="582.1333333333333" stroke="#1a1a1a" stroke-width="1.0"/>
<line x1="353.75" y1="564.6666666666667" x2="357.25" y2="564.6666666666667" stroke="#1a1a1a" stroke-width="1.0"/>
<line x1="354.75" y1="547.2" x2="357.25" y2="547.2" stroke="#1a1a1a" stroke-width="1.0"/>
<line x1="353.75" y1="529.7333333333333" x2="357.25" y2="529.7333333333333" stroke="#1a1a1a" stroke-width="1.0"/>
<line x1="354.75" y1="512.2666666666667" x2="357.25" y2="512.2666666666667" stroke="#1a1a1a" stroke-width="1.0"/>
<line x1="353.75" y1="494.8" x2="357.25" y2="494.8" stroke="#1a1a1a" stroke-width="1.0"/>
<line x1="378.25" y1="599.6" x2="378.25" y2="602.9" stroke="#1a1a1a" stroke-width="1.0"/>
<line x1="409.75" y1="599.6" x2="409.75" y2="602.9" stroke="#1a1a1a" stroke-width="1.0"/>
<line x1="441.25" y1="599.6" x2="441.25" y2="602.9" stroke="#1a1a1a" stroke-width="1.0"/>
<text x="351.25" y="602.35" font-size="8.6" text-anchor="end" font-weight="normal" fill="#231f20" textLength="4.4" lengthAdjust="spacingAndGlyphs" stroke="#231f20" stroke-width="0.15">0</text>
<text x="351.25" y="567.4166666666667" font-size="8.6" text-anchor="end" font-weight="normal" fill="#231f20" textLength="4.4" lengthAdjust="spacingAndGlyphs" stroke="#231f20" stroke-width="0.15">2</text>
<text x="351.25" y="532.4833333333333" font-size="8.6" text-anchor="end" font-weight="normal" fill="#231f20" textLength="4.4" lengthAdjust="spacingAndGlyphs" stroke="#231f20" stroke-width="0.15">4</text>
<text x="351.25" y="497.55" font-size="8.6" text-anchor="end" font-weight="normal" fill="#231f20" textLength="4.4" lengthAdjust="spacingAndGlyphs" stroke="#231f20" stroke-width="0.15">6</text>
<line x1="378.25" y1="529.6" x2="378.25" y2="568.8" stroke="#1a1a1a" stroke-width="1.1"/>
<line x1="373.15" y1="529.6" x2="383.35" y2="529.6" stroke="#1a1a1a" stroke-width="1.1"/>
<line x1="373.15" y1="568.8" x2="383.35" y2="568.8" stroke="#1a1a1a" stroke-width="1.1"/>
<line x1="367.75" y1="549.2" x2="388.75" y2="549.2" stroke="#1a1a1a" stroke-width="1.3"/>
<circle cx="373.35" cy="523" r="2.25" fill="#c8102e"/>
<circle cx="382.6" cy="521.4" r="2.25" fill="#c8102e"/>
<circle cx="377.9" cy="538.9" r="2.25" fill="#c8102e"/>
<circle cx="377.9" cy="550.9" r="2.25" fill="#c8102e"/>
<circle cx="377.9" cy="556.2" r="2.25" fill="#c8102e"/>
<circle cx="373.35" cy="565" r="2.25" fill="#c8102e"/>
<circle cx="382.6" cy="566.75" r="2.25" fill="#c8102e"/>
<circle cx="377.9" cy="571.9" r="2.25" fill="#c8102e"/>
<line x1="409.75" y1="586.6" x2="409.75" y2="593.85" stroke="#1a1a1a" stroke-width="1.1"/>
<line x1="404.65" y1="586.6" x2="414.85" y2="586.6" stroke="#1a1a1a" stroke-width="1.1"/>
<line x1="404.65" y1="593.85" x2="414.85" y2="593.85" stroke="#1a1a1a" stroke-width="1.1"/>
<line x1="399.25" y1="590.3" x2="420.25" y2="590.3" stroke="#1a1a1a" stroke-width="1.3"/>
<circle cx="409.6" cy="583.85" r="2.25" fill="#0e539a"/>
<circle cx="401.15" cy="592.75" r="2.25" fill="#0e539a"/>
<circle cx="406.1" cy="591.2" r="2.25" fill="#0e539a"/>
<circle cx="410.4" cy="591.5" r="2.25" fill="#0e539a"/>
<circle cx="413.8" cy="591.2" r="2.25" fill="#0e539a"/>
<circle cx="417.8" cy="587.2" r="2.25" fill="#0e539a"/>
<circle cx="417.8" cy="594.6" r="2.25" fill="#0e539a"/>
<line x1="441.25" y1="598.6" x2="441.25" y2="598.6" stroke="#1a1a1a" stroke-width="1.1"/>
<line x1="436.15" y1="598.6" x2="446.35" y2="598.6" stroke="#1a1a1a" stroke-width="1.1"/>
<line x1="436.15" y1="598.6" x2="446.35" y2="598.6" stroke="#1a1a1a" stroke-width="1.1"/>
<line x1="430.75" y1="598.6" x2="451.75" y2="598.6" stroke="#1a1a1a" stroke-width="1.3"/>
<circle cx="432.7" cy="599.5" r="2.25" fill="#2bb03f"/>
<circle cx="436.2" cy="597.7" r="2.25" fill="#2bb03f"/>
<circle cx="439.6" cy="599.5" r="2.25" fill="#2bb03f"/>
<circle cx="443" cy="597.7" r="2.25" fill="#2bb03f"/>
<circle cx="445.8" cy="599.5" r="2.25" fill="#2bb03f"/>
<circle cx="448.85" cy="597.7" r="2.25" fill="#2bb03f"/>
<text x="409.75" y="577.0" font-size="9" text-anchor="middle" fill="#000" stroke="#000" stroke-width="0.2">***</text>
<text x="441.25" y="590.35" font-size="9" text-anchor="middle" fill="#000" stroke="#000" stroke-width="0.2">***</text>
<text x="410.05" y="482.8" font-size="9.6" text-anchor="middle" font-weight="normal" fill="#231f20" textLength="70.9" lengthAdjust="spacingAndGlyphs" stroke="#1a1a1a" stroke-width="0.22">Macrocytic RBCs</text>
<text x="0" y="0" transform="translate(340.9,544.1) rotate(-90)" font-size="10.0" text-anchor="middle" font-weight="normal" fill="#231f20" textLength="7.0" lengthAdjust="spacingAndGlyphs" stroke="#231f20" stroke-width="0.15">%</text>
<circle cx="127.5" cy="619.25" r="2.3" fill="#c8102e"/>
<circle cx="190.5" cy="619.25" r="2.3" fill="#0e539a"/>
<circle cx="314.25" cy="619.25" r="2.3" fill="#2bb03f"/>
<text x="134.5" y="622.0" font-size="7.7" text-anchor="start" font-weight="normal" fill="#231f20" textLength="42.5" lengthAdjust="spacingAndGlyphs" stroke="#231f20" stroke-width="0.15">HbSS vehicle</text>
<text x="196.25" y="622.0" font-size="7.7" text-anchor="start" font-weight="normal" fill="#231f20" textLength="105.0" lengthAdjust="spacingAndGlyphs" stroke="#231f20" stroke-width="0.15">HbSS vamifeport 60 mg/kg BID</text>
<text x="321.25" y="622.0" font-size="7.7" text-anchor="start" font-weight="normal" fill="#231f20" textLength="44.2" lengthAdjust="spacingAndGlyphs" stroke="#231f20" stroke-width="0.15">HbAA vehicle</text>
</svg></body></html>
